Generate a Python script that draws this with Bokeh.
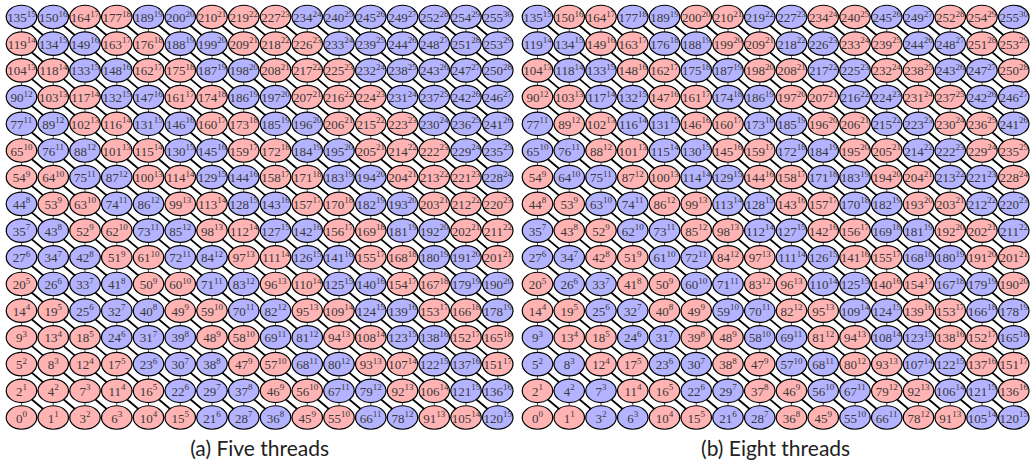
from bokeh.plotting import figure
from bokeh.layouts import row
from bokeh.models import ColumnDataSource, Range1d, Label
from bokeh.core.properties import value
from bokeh.embed import file_html
from bokeh.resources import INLINE

# Execution order of each cell, one list per grid row, top row first
cell_order = [
    [135, 150, 164, 177, 189, 200, 210, 219, 227, 234, 240, 245, 249, 252, 254, 255],
    [119, 134, 149, 163, 176, 188, 199, 209, 218, 226, 233, 239, 244, 248, 251, 253],
    [104, 118, 133, 148, 162, 175, 187, 198, 208, 217, 225, 232, 238, 243, 247, 250],
    [90, 103, 117, 132, 147, 161, 174, 186, 197, 207, 216, 224, 231, 237, 242, 246],
    [77, 89, 102, 116, 131, 146, 160, 173, 185, 196, 206, 215, 223, 230, 236, 241],
    [65, 76, 88, 101, 115, 130, 145, 159, 172, 184, 195, 205, 214, 222, 229, 235],
    [54, 64, 75, 87, 100, 114, 129, 144, 158, 171, 183, 194, 204, 213, 221, 228],
    [44, 53, 63, 74, 86, 99, 113, 128, 143, 157, 170, 182, 193, 203, 212, 220],
    [35, 43, 52, 62, 73, 85, 98, 112, 127, 142, 156, 169, 181, 192, 202, 211],
    [27, 34, 42, 51, 61, 72, 84, 97, 111, 126, 141, 155, 168, 180, 191, 201],
    [20, 26, 33, 41, 50, 60, 71, 83, 96, 110, 125, 140, 154, 167, 179, 190],
    [14, 19, 25, 32, 40, 49, 59, 70, 82, 95, 109, 124, 139, 153, 166, 178],
    [9, 13, 18, 24, 31, 39, 48, 58, 69, 81, 94, 108, 123, 138, 152, 165],
    [5, 8, 12, 17, 23, 30, 38, 47, 57, 68, 80, 93, 107, 122, 137, 151],
    [2, 4, 7, 11, 16, 22, 29, 37, 46, 56, 67, 79, 92, 106, 121, 136],
    [0, 1, 3, 6, 10, 15, 21, 28, 36, 45, 55, 66, 78, 91, 105, 120],
]

# Wavefront step of each cell (the superscript), top row first
wave_step = [
    [15, 16, 17, 18, 19, 20, 21, 22, 23, 24, 25, 26, 27, 28, 29, 30],
    [14, 15, 16, 17, 18, 19, 20, 21, 22, 23, 24, 25, 26, 27, 28, 29],
    [13, 14, 15, 16, 17, 18, 19, 20, 21, 22, 23, 24, 25, 26, 27, 28],
    [12, 13, 14, 15, 16, 17, 18, 19, 20, 21, 22, 23, 24, 25, 26, 27],
    [11, 12, 13, 14, 15, 16, 17, 18, 19, 20, 21, 22, 23, 24, 25, 26],
    [10, 11, 12, 13, 14, 15, 16, 17, 18, 19, 20, 21, 22, 23, 24, 25],
    [9, 10, 11, 12, 13, 14, 15, 16, 17, 18, 19, 20, 21, 22, 23, 24],
    [8, 9, 10, 11, 12, 13, 14, 15, 16, 17, 18, 19, 20, 21, 22, 23],
    [7, 8, 9, 10, 11, 12, 13, 14, 15, 16, 17, 18, 19, 20, 21, 22],
    [6, 7, 8, 9, 10, 11, 12, 13, 14, 15, 16, 17, 18, 19, 20, 21],
    [5, 6, 7, 8, 9, 10, 11, 12, 13, 14, 15, 16, 17, 18, 19, 20],
    [4, 5, 6, 7, 8, 9, 10, 11, 12, 13, 14, 15, 16, 17, 18, 19],
    [3, 4, 5, 6, 7, 8, 9, 10, 11, 12, 13, 14, 15, 16, 17, 18],
    [2, 3, 4, 5, 6, 7, 8, 9, 10, 11, 12, 13, 14, 15, 16, 17],
    [1, 2, 3, 4, 5, 6, 7, 8, 9, 10, 11, 12, 13, 14, 15, 16],
    [0, 1, 2, 3, 4, 5, 6, 7, 8, 9, 10, 11, 12, 13, 14, 15],
]

# Shade (0 = red, 1 = blue) of every wavefront step 0..30
five_thread_shade = [0, 0, 0, 0, 0, 0, 1, 1, 1, 0, 0, 1, 1, 0, 0, 1,
                     1, 0, 0, 1, 1, 0, 0, 0, 1, 1, 1, 1, 1, 1, 1]
eight_thread_shade = [0, 0, 1, 1, 0, 0, 1, 1, 0, 0, 1, 1, 0, 0, 1, 1,
                      0, 0, 1, 1, 0, 0, 1, 1, 0, 0, 1, 1, 0, 0, 1]

captions = ["(a) Five threads", "(b) Eight threads"]

SHADES = ["#FFB3B3", "#B3B3FF"]
HEIGHT = 465
PX_COL = 31.75    # pixels between neighbouring columns
PX_ROW = 26.7     # pixels between neighbouring rows
COL0_PX = 21.0    # left pixel of column 0 centre
TOP_PX = 16.5     # pixel distance from top to the top row centre
NUM_SIZE = 13
SUP_SIZE = 9
SERIF = "Liberation Serif"


def panel(shades, caption, width):
    n = len(cell_order)
    x_start = -COL0_PX / PX_COL
    y_end = (n - 1) + TOP_PX / PX_ROW
    p = figure(width=width, height=HEIGHT, output_backend="svg",
               toolbar_location=None,
               x_range=Range1d(x_start, x_start + width / PX_COL),
               y_range=Range1d(y_end - HEIGHT / PX_ROW, y_end),
               x_axis_location=None, y_axis_location=None,
               min_border=0, outline_line_color=None,
               background_fill_color="white", border_fill_color="white")
    p.grid.visible = False

    xs, ys, nums, sups, fills, offs = [], [], [], [], [], []
    for i, (orders, steps) in enumerate(zip(cell_order, wave_step)):
        r = n - 1 - i
        for c, (o, s) in enumerate(zip(orders, steps)):
            xs.append(c)
            ys.append(r)
            nums.append(str(o))
            sups.append(str(s))
            fills.append(SHADES[shades[s]])
            wn = 0.5 * NUM_SIZE * len(str(o))
            ws = 0.5 * SUP_SIZE * len(str(s))
            offs.append((wn - ws) / 2.0)

    # thin row and column links
    hx0 = [0] * n
    hx1 = [n - 1] * n
    hy = list(range(n))
    p.segment(x0=hx0, y0=hy, x1=hx1, y1=hy, line_color="#555555", line_width=1)
    p.segment(x0=hy, y0=hx0, x1=hy, y1=hx1, line_color="#555555", line_width=1)

    # links between consecutive cells of one wavefront
    dx0, dy0, dx1, dy1 = [], [], [], []
    for x, y in zip(xs, ys):
        if x + 1 < n and y - 1 >= 0:
            dx0.append(x)
            dy0.append(y)
            dx1.append(x + 1)
            dy1.append(y - 1)
    p.segment(x0=dx0, y0=dy0, x1=dx1, y1=dy1, line_color="black", line_width=1.8)

    src = ColumnDataSource(dict(x=xs, y=ys, num=nums, sup=sups, fill=fills, off=offs))
    p.ellipse(x="x", y="y", width=30.5 / PX_COL, height=23.5 / PX_ROW, source=src,
              fill_color="fill", line_color="black", line_width=1.2)
    p.text(x="x", y="y", text="num", x_offset="off", y_offset=1, source=src,
           text_align="right", text_baseline="middle",
           text_font=value(SERIF), text_font_size=f"{NUM_SIZE}px",
           text_color="#3a3a3a")
    p.text(x="x", y="y", text="sup", x_offset="off", y_offset=-3.5, source=src,
           text_align="left", text_baseline="middle",
           text_font=value(SERIF), text_font_size=f"{SUP_SIZE}px",
           text_color="#3a3a3a")

    p.add_layout(Label(x=(n - 1) / 2.0, y=HEIGHT - 447, y_units="screen",
                       text=caption, text_align="center", text_baseline="middle",
                       text_font="Lato", text_font_size="21px", text_color="#222222"))
    return p


left = panel(five_thread_shade, captions[0], 516)
right = panel(eight_thread_shade, captions[1], 515)
layout = row(left, right)

with open("out.html", "w") as f:
    f.write(file_html(layout, INLINE))
